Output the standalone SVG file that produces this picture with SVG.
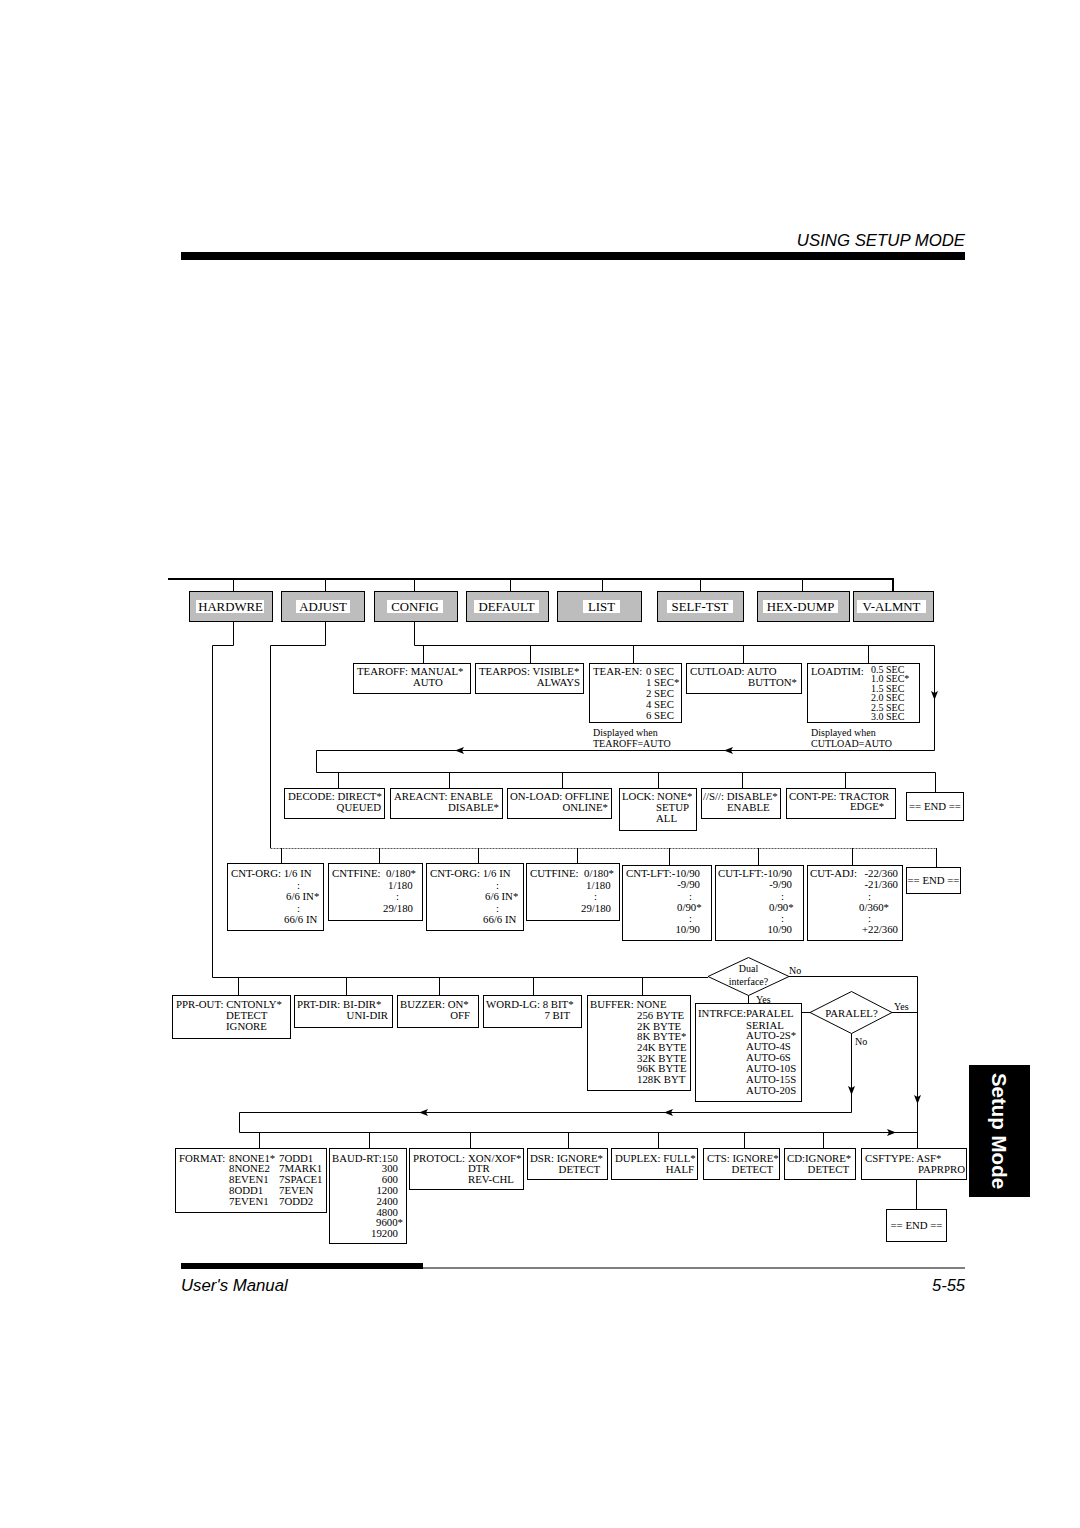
<svg xmlns="http://www.w3.org/2000/svg" width="1080" height="1528" viewBox="0 0 1080 1528">
<style>
.b{fill:#fff;stroke:#000;stroke-width:1}
.g{fill:#bdbdbd;stroke:#000;stroke-width:1}
.w{fill:#fff;stroke:none}
.t{font-family:"Liberation Serif","Times New Roman",serif;font-size:10.8px;fill:#000}
.s{font-family:"Liberation Serif","Times New Roman",serif;font-size:10px;fill:#000}
.h{font-family:"Liberation Serif","Times New Roman",serif;font-size:12.8px;fill:#000;text-anchor:middle}
.e{text-anchor:end}
.m{text-anchor:middle}
.c{fill:none;stroke:#000;stroke-width:1}
.d{fill:none;stroke:#555;stroke-width:1;stroke-dasharray:2,1}
.hd{font-family:"Liberation Sans",Arial,sans-serif;font-style:italic;fill:#000}
</style>
<defs>
<path id="aL" d="M0,0 L9,-3.5 L7,0 L9,3.5 Z" fill="#000"/>
</defs>
<rect width="1080" height="1528" fill="#fff"/>
<g id="header">
<text class="hd" x="965" y="246" font-size="16.8" text-anchor="end">USING SETUP MODE</text>
<rect x="181" y="252" width="784" height="8" fill="#000"/>
</g>
<g id="footer">
<rect x="181" y="1263" width="242" height="6" fill="#000"/>
<line x1="423" y1="1268" x2="965" y2="1268" stroke="#000" stroke-width="1"/>
<text class="hd" x="181" y="1291" font-size="16.8">User's Manual</text>
<text class="hd" x="965" y="1291" font-size="16.5" text-anchor="end">5-55</text>
</g>
<g id="tab">
<rect x="969" y="1065" width="61" height="132" fill="#000"/>
<text x="999" y="1131" transform="rotate(90 999 1131)" font-family="Liberation Sans, Arial, sans-serif" font-weight="bold" font-size="20.5" fill="#fff" text-anchor="middle" dominant-baseline="central">Setup Mode</text>
</g>
<g id="connectors">
<path d="M168,579 H893 V591" fill="none" stroke="#000" stroke-width="2"/>
<path class="c" d="M233.5,579 V591 M325.5,579 V591 M414.5,579 V591 M510.5,579 V591 M602.5,579 V591 M700.5,579 V591 M802.5,579 V591"/>
<path class="c" d="M233.5,621 V645.5 H212.5 V977.5 H708"/>
<path class="c" d="M325.5,621 V645.5 H270.5 V848"/>
<path class="c" d="M414.5,621 V645.5 H934.5 V750.5 H316.5 V772.5 H935.5 V792"/>
<path class="c" d="M423.5,645 V663 M530.5,645 V663 M633.5,645 V663 M743.5,645 V663 M868.5,645 V663"/>
<use href="#aL" transform="translate(934.5,700) rotate(-90)"/>
<use href="#aL" transform="translate(455,750.5)"/>
<use href="#aL" transform="translate(724,750.5)"/>
<path class="c" d="M338.5,772 V788 M449.5,772 V788 M562.5,772 V788 M658.5,772 V788 M742.5,772 V788 M845.5,772 V788"/>
<path class="d" d="M270.5,848.5 H936.5"/>
<path class="c" d="M281.5,848 V863 M379.5,848 V863 M478.5,848 V863 M577.5,848 V863 M669.5,848 V865 M758.5,848 V865 M852.5,848 V865 M936.5,848 V867"/>
<path class="c" d="M238.5,977 V995 M346.5,977 V995 M439.5,977 V995 M533.5,977 V995 M642.5,977 V995"/>
<path class="c" d="M788,976.5 H917.5 V1148"/>
<path class="c" d="M748.5,995 V1003"/>
<path class="c" d="M801,1012.5 H810 M892,1012.5 H917"/>
<path class="c" d="M851.5,1033 V1112.5 H239.5 V1132.5 H917"/>
<use href="#aL" transform="translate(851.5,1095) rotate(-90)"/>
<use href="#aL" transform="translate(917.5,1104) rotate(-90)"/>
<use href="#aL" transform="translate(419,1112.5)"/>
<use href="#aL" transform="translate(664,1112.5)"/>
<use href="#aL" transform="translate(896,1132.5) rotate(180)"/>
<path class="c" d="M259.5,1132 V1148 M369.5,1132 V1148 M470.5,1132 V1148 M568.5,1132 V1148 M658.5,1132 V1148 M744.5,1132 V1148 M823.5,1132 V1148"/>
<path class="c" d="M916.5,1179 V1209"/>
<text class="s" x="789" y="974">No</text>
<text class="s" x="756" y="1003">Yes</text>
<text class="s" x="894" y="1010">Yes</text>
<text class="s" x="855" y="1045">No</text>
</g>
<g id="n-hardwre"><rect class="g" x="189.5" y="591.5" width="83" height="30"/><rect class="w" x="196" y="600" width="68" height="13"/><text class="h" x="230.5" y="611">HARDWRE</text></g>
<g id="n-adjust"><rect class="g" x="281.5" y="591.5" width="83" height="30"/><rect class="w" x="296" y="600" width="54" height="13"/><text class="h" x="323" y="611">ADJUST</text></g>
<g id="n-config"><rect class="g" x="374.5" y="591.5" width="83" height="30"/><rect class="w" x="387" y="600" width="56" height="13"/><text class="h" x="415" y="611">CONFIG</text></g>
<g id="n-default"><rect class="g" x="466.5" y="591.5" width="82" height="30"/><rect class="w" x="474" y="600" width="65" height="13"/><text class="h" x="506.5" y="611">DEFAULT</text></g>
<g id="n-list"><rect class="g" x="557.5" y="591.5" width="84" height="30"/><rect class="w" x="583" y="600" width="37" height="13"/><text class="h" x="601.5" y="611">LIST</text></g>
<g id="n-selftst"><rect class="g" x="657.5" y="591.5" width="86" height="30"/><rect class="w" x="667" y="600" width="66" height="13"/><text class="h" x="700" y="611">SELF-TST</text></g>
<g id="n-hexdump"><rect class="g" x="757.5" y="591.5" width="92" height="30"/><rect class="w" x="763" y="600" width="75" height="13"/><text class="h" x="800.5" y="611">HEX-DUMP</text></g>
<g id="n-valmnt"><rect class="g" x="853.5" y="591.5" width="80" height="30"/><rect class="w" x="857" y="600" width="69" height="13"/><text class="h" x="891.5" y="611">V-ALMNT</text></g>

<g id="n-tearoff"><rect class="b" x="353.5" y="663.5" width="117" height="30"/><text class="t" x="357" y="675">TEAROFF: MANUAL*</text><text class="t" x="413" y="686">AUTO</text></g>
<g id="n-tearpos"><rect class="b" x="475.5" y="663.5" width="108" height="30"/><text class="t" x="479" y="675">TEARPOS: VISIBLE*</text><text class="t e" x="580" y="686">ALWAYS</text></g>
<g id="n-tearen"><rect class="b" x="589.5" y="663.5" width="92" height="59"/><text class="t" x="593" y="675">TEAR-EN:</text><text class="t" x="646" y="675">0 SEC</text><text class="t" x="646" y="686">1 SEC*</text><text class="t" x="646" y="697">2 SEC</text><text class="t" x="646" y="708">4 SEC</text><text class="t" x="646" y="719">6 SEC</text><text class="s" x="593" y="736">Displayed when</text><text class="s" x="593" y="747">TEAROFF=AUTO</text></g>
<g id="n-cutload"><rect class="b" x="686.5" y="663.5" width="115" height="30"/><text class="t" x="690" y="675">CUTLOAD: AUTO</text><text class="t e" x="797" y="686">BUTTON*</text></g>
<g id="n-loadtim"><rect class="b" x="807.5" y="663.5" width="112" height="59"/><text class="t" x="811" y="675">LOADTIM:</text><text class="s" x="871" y="673">0.5 SEC</text><text class="s" x="871" y="682">1.0 SEC*</text><text class="s" x="871" y="691.5">1.5 SEC</text><text class="s" x="871" y="701">2.0 SEC</text><text class="s" x="871" y="710.5">2.5 SEC</text><text class="s" x="871" y="720">3.0 SEC</text><text class="s" x="811" y="736">Displayed when</text><text class="s" x="811" y="747">CUTLOAD=AUTO</text></g>

<g id="n-decode"><rect class="b" x="284.5" y="788.5" width="100" height="30"/><text class="t" x="288" y="800">DECODE: DIRECT*</text><text class="t e" x="381" y="811">QUEUED</text></g>
<g id="n-areacnt"><rect class="b" x="390.5" y="788.5" width="112" height="30"/><text class="t" x="394" y="800">AREACNT: ENABLE</text><text class="t e" x="499" y="811">DISABLE*</text></g>
<g id="n-onload"><rect class="b" x="507.5" y="788.5" width="104" height="30"/><text class="t" x="510" y="800">ON-LOAD: OFFLINE</text><text class="t e" x="608" y="811">ONLINE*</text></g>
<g id="n-lock"><rect class="b" x="619.5" y="788.5" width="77" height="42"/><text class="t" x="622" y="800">LOCK: NONE*</text><text class="t" x="656" y="811">SETUP</text><text class="t" x="656" y="822">ALL</text></g>
<g id="n-s"><rect class="b" x="701.5" y="788.5" width="79" height="30"/><text class="t" x="703" y="800">//S//: DISABLE*</text><text class="t" x="727" y="811">ENABLE</text></g>
<g id="n-contpe"><rect class="b" x="786.5" y="788.5" width="109" height="30"/><text class="t" x="789" y="800">CONT-PE: TRACTOR</text><text class="t" x="850" y="810">EDGE*</text></g>
<g id="n-end1"><rect class="b" x="906.5" y="792.5" width="57" height="28"/><text class="t m" x="935" y="810">== END ==</text></g>

<g id="n-cntorg1"><rect class="b" x="227.5" y="863.5" width="96" height="67"/><text class="t" x="231" y="877">CNT-ORG: 1/6 IN</text><text class="t" x="297" y="888.5">:</text><text class="t" x="286" y="900">6/6 IN*</text><text class="t" x="297" y="911.5">:</text><text class="t" x="284" y="923">66/6 IN</text></g>
<g id="n-cntfine"><rect class="b" x="328.5" y="863.5" width="94" height="57"/><text class="t" x="332" y="877">CNTFINE:</text><text class="t" x="386" y="877">0/180*</text><text class="t" x="388" y="888.5">1/180</text><text class="t" x="396" y="900">:</text><text class="t" x="383" y="911.5">29/180</text></g>
<g id="n-cntorg2"><rect class="b" x="426.5" y="863.5" width="97" height="67"/><text class="t" x="430" y="877">CNT-ORG: 1/6 IN</text><text class="t" x="496" y="888.5">:</text><text class="t" x="485" y="900">6/6 IN*</text><text class="t" x="496" y="911.5">:</text><text class="t" x="483" y="923">66/6 IN</text></g>
<g id="n-cutfine"><rect class="b" x="526.5" y="863.5" width="93" height="57"/><text class="t" x="530" y="877">CUTFINE:</text><text class="t" x="584" y="877">0/180*</text><text class="t" x="586" y="888.5">1/180</text><text class="t" x="594" y="900">:</text><text class="t" x="581" y="911.5">29/180</text></g>
<g id="n-cntlft"><rect class="b" x="622.5" y="865.5" width="89" height="75"/><text class="t" x="626" y="877">CNT-LFT:</text><text class="t e" x="700" y="877">-10/90</text><text class="t e" x="700" y="888">-9/90</text><text class="t" x="689" y="899.5">:</text><text class="t" x="677" y="910.5">0/90*</text><text class="t" x="689" y="921.5">:</text><text class="t e" x="700" y="933">10/90</text></g>
<g id="n-cutlft"><rect class="b" x="715.5" y="865.5" width="88" height="75"/><text class="t" x="718" y="877">CUT-LFT:</text><text class="t e" x="792" y="877">-10/90</text><text class="t e" x="792" y="888">-9/90</text><text class="t" x="781" y="899.5">:</text><text class="t" x="769" y="910.5">0/90*</text><text class="t" x="781" y="921.5">:</text><text class="t e" x="792" y="933">10/90</text></g>
<g id="n-cutadj"><rect class="b" x="807.5" y="865.5" width="95" height="75"/><text class="t" x="810" y="877">CUT-ADJ:</text><text class="t e" x="898" y="877">-22/360</text><text class="t e" x="898" y="888">-21/360</text><text class="t" x="868" y="899.5">:</text><text class="t" x="859" y="910.5">0/360*</text><text class="t" x="868" y="921.5">:</text><text class="t e" x="898" y="933">+22/360</text></g>
<g id="n-end2"><rect class="b" x="906.5" y="867.5" width="54" height="26"/><text class="t m" x="933.5" y="884">== END ==</text></g>

<g id="n-dual"><path class="b" d="M708,976.5 L748.5,957.5 L789,976.5 L748.5,995.5 Z"/><text class="s m" x="748.5" y="972">Dual</text><text class="s m" x="748.5" y="985">interface?</text></g>
<g id="n-pprout"><rect class="b" x="172.5" y="995.5" width="118" height="43"/><text class="t" x="176" y="1008">PPR-OUT: CNTONLY*</text><text class="t" x="226" y="1019">DETECT</text><text class="t" x="226" y="1030">IGNORE</text></g>
<g id="n-prtdir"><rect class="b" x="294.5" y="995.5" width="98" height="32"/><text class="t" x="297" y="1008">PRT-DIR: BI-DIR*</text><text class="t e" x="388" y="1019">UNI-DIR</text></g>
<g id="n-buzzer"><rect class="b" x="397.5" y="995.5" width="81" height="32"/><text class="t" x="400" y="1008">BUZZER: ON*</text><text class="t e" x="470" y="1019">OFF</text></g>
<g id="n-wordlg"><rect class="b" x="483.5" y="995.5" width="98" height="32"/><text class="t" x="486" y="1008">WORD-LG: 8 BIT*</text><text class="t e" x="570" y="1019">7 BIT</text></g>
<g id="n-buffer"><rect class="b" x="587.5" y="995.5" width="103" height="95"/><text class="t" x="590" y="1008">BUFFER: NONE</text><text class="t" x="637" y="1019">256 BYTE</text><text class="t" x="637" y="1029.5">2K BYTE</text><text class="t" x="637" y="1040">8K BYTE*</text><text class="t" x="637" y="1051">24K BYTE</text><text class="t" x="637" y="1061.5">32K BYTE</text><text class="t" x="637" y="1072">96K BYTE</text><text class="t" x="637" y="1083">128K BYT</text></g>
<g id="n-intrfce"><rect class="b" x="695.5" y="1003.5" width="106" height="98"/><text class="t" x="698" y="1017">INTRFCE:PARALEL</text><text class="t" x="746" y="1028.5">SERIAL</text><text class="t" x="746" y="1039">AUTO-2S*</text><text class="t" x="746" y="1050">AUTO-4S</text><text class="t" x="746" y="1061">AUTO-6S</text><text class="t" x="746" y="1072">AUTO-10S</text><text class="t" x="746" y="1083">AUTO-15S</text><text class="t" x="746" y="1094">AUTO-20S</text></g>
<g id="n-paralel"><path class="b" d="M810,1012.5 L851.5,991.5 L892,1012.5 L851.5,1033.5 Z"/><text class="t m" x="851.5" y="1016.5">PARALEL?</text></g>

<g id="n-format"><rect class="b" x="175.5" y="1148.5" width="151" height="64"/><text class="t" x="179" y="1161.5">FORMAT:</text><text class="t" x="229" y="1161.5">8NONE1*</text><text class="t" x="229" y="1172">8NONE2</text><text class="t" x="229" y="1183">8EVEN1</text><text class="t" x="229" y="1194">8ODD1</text><text class="t" x="229" y="1205">7EVEN1</text><text class="t" x="279" y="1161.5">7ODD1</text><text class="t" x="279" y="1172">7MARK1</text><text class="t" x="279" y="1183">7SPACE1</text><text class="t" x="279" y="1194">7EVEN</text><text class="t" x="279" y="1205">7ODD2</text></g>
<g id="n-baudrt"><rect class="b" x="329.5" y="1148.5" width="77" height="95"/><text class="t" x="332" y="1161.5">BAUD-RT:150</text><text class="t e" x="398" y="1172">300</text><text class="t e" x="398" y="1183">600</text><text class="t e" x="398" y="1194">1200</text><text class="t e" x="398" y="1205">2400</text><text class="t e" x="398" y="1215.5">4800</text><text class="t e" x="403" y="1226">9600*</text><text class="t e" x="398" y="1237">19200</text></g>
<g id="n-protocl"><rect class="b" x="409.5" y="1148.5" width="114" height="41"/><text class="t" x="413" y="1161.5">PROTOCL:</text><text class="t" x="468" y="1161.5">XON/XOF*</text><text class="t" x="468" y="1172">DTR</text><text class="t" x="468" y="1183">REV-CHL</text></g>
<g id="n-dsr"><rect class="b" x="527.5" y="1148.5" width="80" height="31"/><text class="t" x="530" y="1161.5">DSR: IGNORE*</text><text class="t e" x="600" y="1172.5">DETECT</text></g>
<g id="n-duplex"><rect class="b" x="611.5" y="1148.5" width="86" height="31"/><text class="t" x="615" y="1161.5">DUPLEX: FULL*</text><text class="t e" x="694" y="1172.5">HALF</text></g>
<g id="n-cts"><rect class="b" x="703.5" y="1148.5" width="76" height="31"/><text class="t" x="707" y="1161.5">CTS: IGNORE*</text><text class="t e" x="773" y="1172.5">DETECT</text></g>
<g id="n-cd"><rect class="b" x="784.5" y="1148.5" width="71" height="31"/><text class="t" x="787" y="1161.5">CD:IGNORE*</text><text class="t e" x="849" y="1172.5">DETECT</text></g>
<g id="n-csftype"><rect class="b" x="861.5" y="1148.5" width="105" height="31"/><text class="t" x="865" y="1161.5">CSFTYPE: ASF*</text><text class="t e" x="965" y="1172.5">PAPRPRO</text></g>
<g id="n-end3"><rect class="b" x="886.5" y="1209.5" width="60" height="32"/><text class="t m" x="916.5" y="1229">== END ==</text></g>
</svg>
